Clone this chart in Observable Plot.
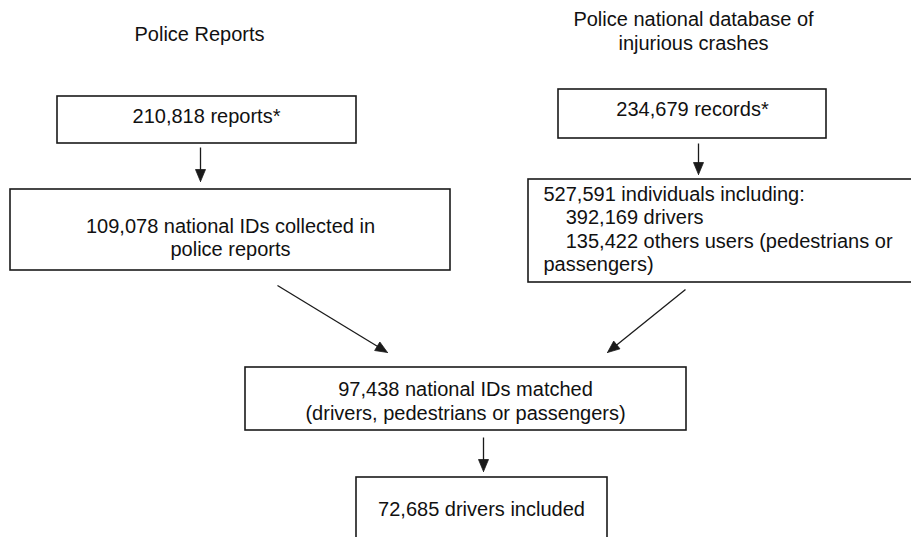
<!DOCTYPE html>
<html>
<head>
<meta charset="utf-8">
<script src="https://cdn.jsdelivr.net/npm/d3@7"></script>
<script src="https://cdn.jsdelivr.net/npm/@observablehq/plot@0.6"></script>
<style>
  html, body { margin: 0; padding: 0; background: #fff; }
  svg { display: block; }
</style>
</head>
<body>
<script>
// ---- data ----
const sourceTitles = ["Police Reports", "Police national database of\ninjurious crashes"];
const nodeIds = ["reports", "ids", "records", "individuals", "matched", "included"];
const nodeCounts = [210818, 109078, 234679, 527591, 97438, 72685];
const nodeLabels = [
  "reports*",
  "national IDs collected in\npolice reports",
  "records*",
  "individuals including:",
  "national IDs matched\n(drivers, pedestrians or passengers)",
  "drivers included"
];
const subgroupCounts = [392169, 135422];
const subgroupLabels = ["drivers", "others users (pedestrians or"];
const subgroupTail = "passengers)";
const edgeFrom = ["reports", "records", "ids", "individuals", "matched"];
const edgeTo = ["ids", "individuals", "matched", "matched", "included"];

// ---- layout (pixel space of the 911x537 canvas) ----
const boxLayout = {
  reports:     {x1: 57,  x2: 356, y1: 96,  y2: 143, tx: 206, ty: 115, lh: 1.1, anchor: "middle"},
  ids:         {x1: 10,  x2: 450, y1: 189, y2: 270, tx: 230, ty: 237, lh: 1.12, anchor: "middle"},
  records:     {x1: 558, x2: 826, y1: 89,  y2: 138, tx: 692, ty: 108, lh: 1.1, anchor: "middle"},
  individuals: {x1: 528, x2: 918, y1: 179, y2: 282, tx: 543, ty: 228, lh: 1.17, anchor: "start"},
  matched:     {x1: 245, x2: 686, y1: 367, y2: 430, tx: 465, ty: 399.5, lh: 1.22, anchor: "middle"},
  included:    {x1: 356, x2: 607, y1: 477, y2: 548, tx: 481, ty: 508, lh: 1.1, anchor: "middle"}
};
const titleLayout = [{tx: 199, ty: 33, lh: 1.2}, {tx: 693, ty: 30, lh: 1.17}];
const arrowLayout = {
  "reports-ids":         {xa: 200, ya: 147, xb: 200, yb: 181},
  "records-individuals": {xa: 698, ya: 143, xb: 698, yb: 174},
  "ids-matched":         {xa: 277, ya: 285, xb: 387, yb: 352},
  "individuals-matched": {xa: 685, ya: 289, xb: 607, yb: 352},
  "matched-included":    {xa: 483, ya: 437, xb: 483, yb: 471}
};
const headLen = 12, headHalf = 5;

// ---- build tables ----
const fmt = d3.format(",");
const nbsp = "\u00a0\u00a0\u00a0\u00a0";
const nodes = nodeIds.map((id, i) => {
  let text = fmt(nodeCounts[i]) + " " + nodeLabels[i];
  if (id === "individuals") {
    text += "\n" + subgroupCounts.map((c, j) => nbsp + fmt(c) + " " + subgroupLabels[j]).join("\n") + "\n" + subgroupTail;
  }
  return {id, text, ...boxLayout[id]};
});
const titles = sourceTitles.map((t, i) => ({text: t, ...titleLayout[i]}));
const edges = edgeFrom.map((f, i) => ({id: f + "-" + edgeTo[i], ...arrowLayout[f + "-" + edgeTo[i]]}));
const heads = [];
edges.forEach(e => {
  const dx = e.xb - e.xa, dy = e.yb - e.ya, L = Math.hypot(dx, dy);
  const ux = dx / L, uy = dy / L, px = -uy, py = ux;
  const bx = e.xb - ux * headLen, by = e.yb - uy * headLen;
  heads.push({id: e.id, x: e.xb, y: e.yb});
  heads.push({id: e.id, x: bx + px * headHalf, y: by + py * headHalf});
  heads.push({id: e.id, x: bx - px * headHalf, y: by - py * headHalf});
  heads.push({id: e.id, x: e.xb, y: e.yb});
  e.xs = bx + ux * 1; e.ys = by + uy * 1;
});

const font = "Liberation Sans, Arial, Helvetica, sans-serif";
const ink = "#1a1a1a";

const textMarks = nodes.map(n => Plot.text([n], {
  x: "tx", y: "ty", text: "text", textAnchor: n.anchor, lineAnchor: "middle",
  lineHeight: n.lh, fontSize: 20, fill: "#111", fontFamily: font
}));
const titleMarks = titles.map(t => Plot.text([t], {
  x: "tx", y: "ty", text: "text", textAnchor: "middle", lineAnchor: "middle",
  lineHeight: t.lh, fontSize: 20, fill: "#111", fontFamily: font
}));

const chart = Plot.plot({
  width: 911,
  height: 537,
  margin: 0,
  style: {background: "#fff", fontFamily: font},
  x: {domain: [0, 911], range: [0, 911], axis: null},
  y: {domain: [0, 537], range: [0, 537], axis: null},
  marks: [
    Plot.rect(nodes, {x1: "x1", x2: "x2", y1: "y1", y2: "y2", fill: "#fff", stroke: ink, strokeWidth: 1.6}),
    Plot.link(edges, {x1: "xa", y1: "ya", x2: "xs", y2: "ys", stroke: ink, strokeWidth: 1.3}),
    Plot.line(heads, {x: "x", y: "y", z: "id", fill: ink, stroke: ink, strokeWidth: 0.8, strokeLinejoin: "miter", curve: "linear"}),
    ...titleMarks,
    ...textMarks
  ]
});
document.body.appendChild(chart);
</script>
</body>
</html>
